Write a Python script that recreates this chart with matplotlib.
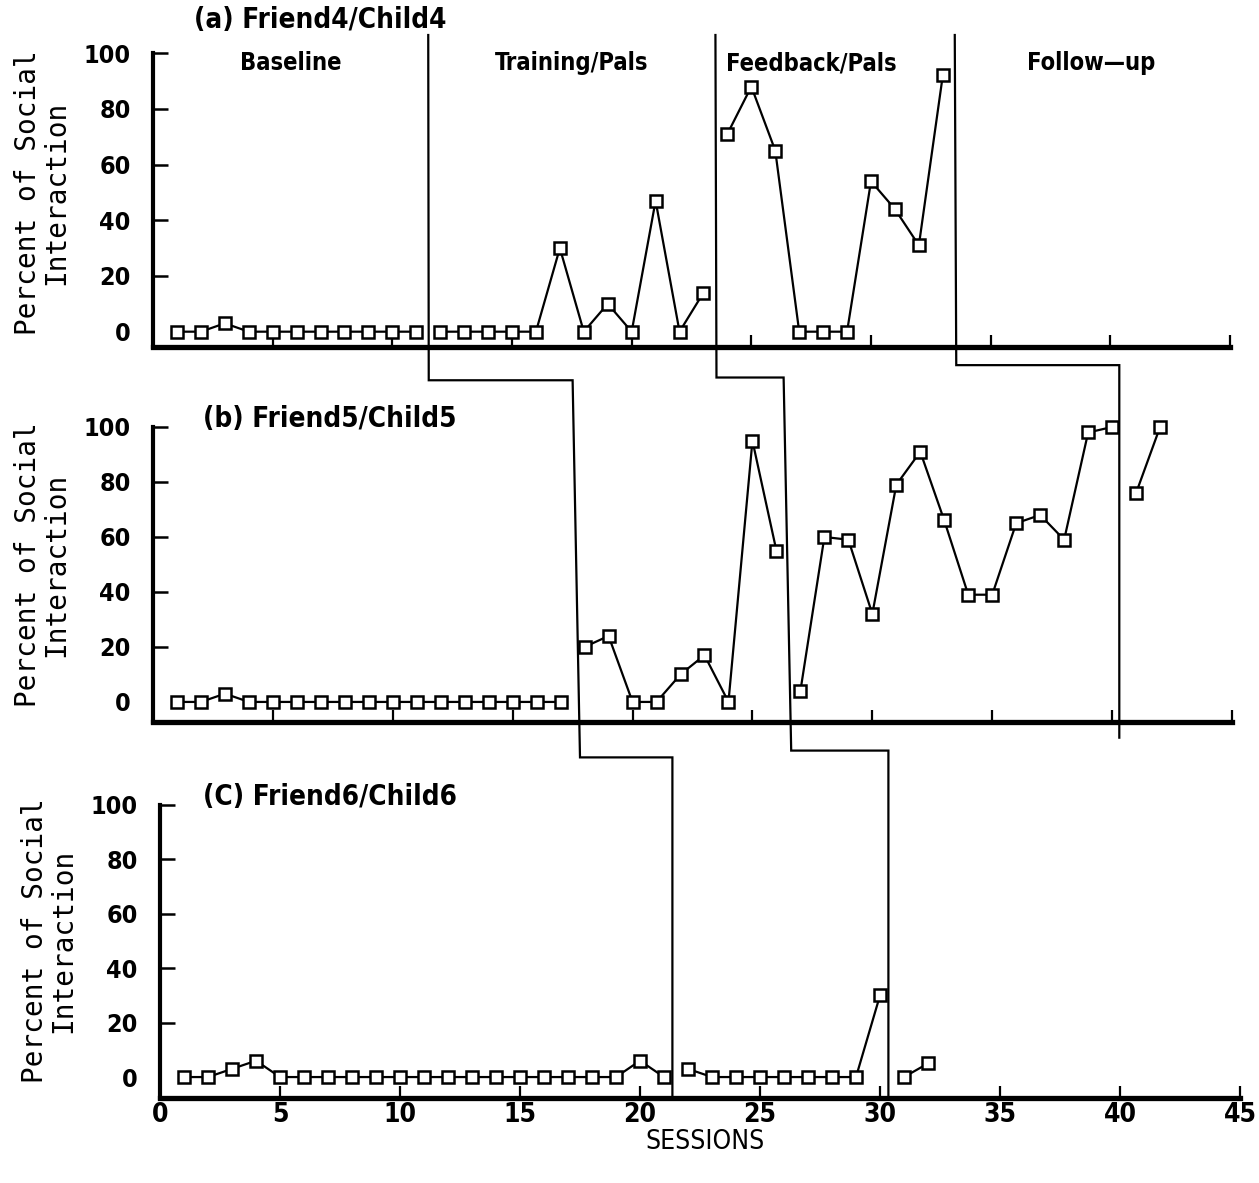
import numpy as np
import matplotlib
matplotlib.use("Agg")
import matplotlib.pyplot as plt
from matplotlib.lines import Line2D

# ---- data ----
# panel (a) Friend4/Child4
a_base_x = list(range(1, 12))
a_base_y = [0, 0, 3, 0, 0, 0, 0, 0, 0, 0, 0]
a_train_x = list(range(12, 24))
a_train_y = [0, 0, 0, 0, 0, 30, 0, 10, 0, 47, 0, 14]
a_feed_x = list(range(24, 34))
a_feed_y = [71, 88, 65, 0, 0, 0, 54, 44, 31, 92]

# panel (b) Friend5/Child5
b_base_x = list(range(1, 18))
b_base_y = [0, 0, 3, 0, 0, 0, 0, 0, 0, 0, 0, 0, 0, 0, 0, 0, 0]
b_train_x = list(range(18, 27))
b_train_y = [20, 24, 0, 0, 10, 17, 0, 95, 55]
b_feed_x = list(range(27, 41))
b_feed_y = [4, 60, 59, 32, 79, 91, 66, 39, 39, 65, 68, 59, 98, 100]
b_follow_x = [41, 42]
b_follow_y = [76, 100]

# panel (c) Friend6/Child6
c_base_x = list(range(1, 22))
c_base_y = [0, 0, 3, 6, 0, 0, 0, 0, 0, 0, 0, 0, 0, 0, 0, 0, 0, 0, 0, 6, 0]
c_train_x = list(range(22, 31))
c_train_y = [3, 0, 0, 0, 0, 0, 0, 0, 30]
c_feed_x = [31, 32]
c_feed_y = [0, 5]

# phase change lines (session positions) per panel
phase_a = [11.5, 23.5, 33.5]
phase_b = [17.5, 26.3, 40.3]
phase_c = [21.35, 30.35]
phase_names = ["Baseline", "Training/Pals", "Feedback/Pals", "Follow\u2014up"]
titles = ["(a) Friend4/Child4", "(b) Friend5/Child5", "(C) Friend6/Child6"]

W, H = 1259, 1183
cond = dict(family="DejaVu Sans", fontstretch="condensed")

fig = plt.figure(figsize=(W / 100, H / 100), dpi=100)
fig.patch.set_facecolor("white")


def px_rect(left, right, top, bottom):
    return [left / W, 1 - bottom / H, (right - left) / W, (bottom - top) / H]


ax_a = fig.add_axes(px_rect(153, 1230, 35, 347))
ax_b = fig.add_axes(px_rect(153, 1232, 427, 722))
ax_c = fig.add_axes(px_rect(160, 1240, 805, 1098))
ax_a.set_ylim(-5.5, 106.5)
ax_b.set_ylim(-7.3, 100)
ax_c.set_ylim(-7.7, 100)

for ax in (ax_a, ax_b, ax_c):
    ax.set_xlim(0, 45)
    ax.set_facecolor("none")
    for s in ("top", "right"):
        ax.spines[s].set_visible(False)
    ax.spines["left"].set_linewidth(3.0)
    ax.spines["bottom"].set_linewidth(3.8)
    ax.spines["left"].set_bounds(ax.get_ylim()[0], 100)
    ax.spines["bottom"].set_capstyle("projecting")
    ax.set_yticks([0, 20, 40, 60, 80, 100])
    ax.set_xticks(range(0, 46, 5))
    ax.tick_params(axis="y", direction="in", length=11, width=1.8, pad=16)
    ax.tick_params(axis="x", direction="in", length=9, width=1.6, pad=3)
    ax.yaxis.get_major_ticks()[0].tick1line.set_visible(False)
    ax.xaxis.get_major_ticks()[0].tick1line.set_visible(False)
    for lab in ax.get_yticklabels():
        lab.set_fontfamily("DejaVu Sans")
        lab.set_fontstretch("condensed")
        lab.set_fontweight("bold")
        lab.set_fontsize(18)
    ylo = ax.get_ylim()[0]
    frac = (50 - ylo) / (ax.get_ylim()[1] - ylo)
    ax.text(-0.103, frac, "Percent of Social\nInteraction", rotation=90,
            ha="center", va="center", multialignment="center",
            family="DejaVu Sans Mono", fontsize=20, linespacing=1.0,
            transform=ax.transAxes)

ax_a.set_xticklabels([])
ax_b.set_xticklabels([])
for lab in ax_c.get_xticklabels():
    lab.set_fontfamily("DejaVu Sans")
    lab.set_fontstretch("condensed")
    lab.set_fontweight("bold")
    lab.set_fontsize(19)

mk = dict(color="black", lw=1.6, marker="s", ms=8, mfc="white", mec="black",
          mew=1.8, clip_on=False, zorder=5)
for xs, ys in [(a_base_x, a_base_y), (a_train_x, a_train_y), (a_feed_x, a_feed_y)]:
    ax_a.plot(xs, ys, **mk)
for xs, ys in [(b_base_x, b_base_y), (b_train_x, b_train_y),
               (b_feed_x, b_feed_y), (b_follow_x, b_follow_y)]:
    ax_b.plot(xs, ys, **mk)
for xs, ys in [(c_base_x, c_base_y), (c_train_x, c_train_y), (c_feed_x, c_feed_y)]:
    ax_c.plot(xs, ys, **mk)

# titles and phase names
ax_a.text(1.7, 112, titles[0], fontweight="bold", fontsize=20,
          va="center", ha="left", clip_on=False, **cond)
ax_b.text(2.1, 103, titles[1], fontweight="bold", fontsize=20,
          va="center", ha="left", clip_on=False, **cond)
ax_c.text(1.8, 103, titles[2], fontweight="bold", fontsize=20,
          va="center", ha="left", clip_on=False, **cond)
for xc, name in zip([5.75, 17.5, 27.5, 39.2], phase_names):
    ax_a.text(xc, 96.4, name, fontweight="bold", fontsize=17,
              ha="center", va="center", **cond)

fig.text(705 / W, 1 - 1142 / H, "SESSIONS", fontsize=19,
         ha="center", va="center", **cond)

# staggered phase-change lines across panels
conn_ab = [117, 118, 122.5]     # y in panel b coords where the step crosses
conn_bc = [117.5, 120]          # y in panel c coords
inv = fig.transFigure.inverted()


def fpt(ax, x, y):
    return inv.transform(ax.transData.transform((x, y)))


for k in range(3):
    pts = [fpt(ax_a, phase_a[k], 106.5),
           fpt(ax_b, phase_a[k], conn_ab[k]),
           fpt(ax_b, phase_b[k], conn_ab[k])]
    if k < 2:
        pts += [fpt(ax_c, phase_b[k], conn_bc[k]),
                fpt(ax_c, phase_c[k], conn_bc[k]),
                fpt(ax_c, phase_c[k], ax_c.get_ylim()[0])]
    else:
        pts += [fpt(ax_b, phase_b[k], -13)]
    pts = np.array(pts)
    fig.add_artist(Line2D(pts[:, 0], pts[:, 1], color="black", lw=1.6,
                          transform=fig.transFigure, solid_joinstyle="miter"))

fig.savefig("out.png", dpi=100, facecolor="white")
